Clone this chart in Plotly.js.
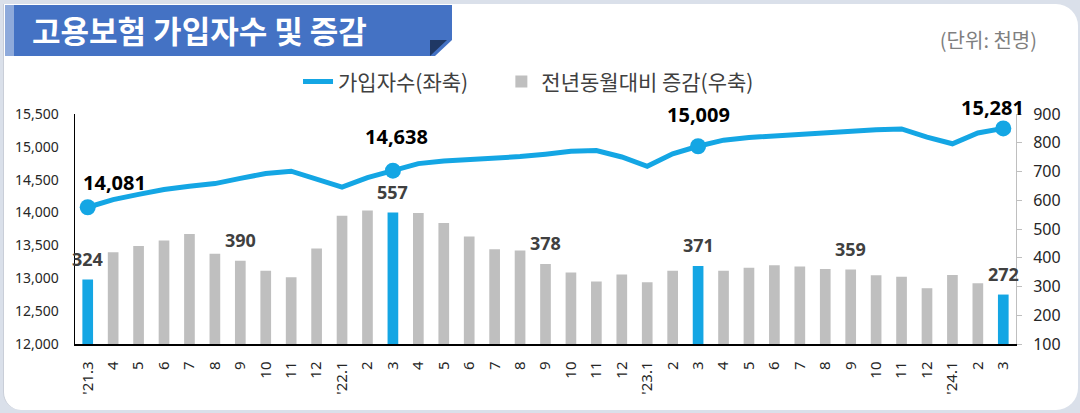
<!DOCTYPE html>
<html>
<head>
<meta charset="utf-8">
<script src="https://cdn.plot.ly/plotly-3.0.1.min.js"></script>
<style>
  html, body { margin: 0; padding: 0; }
  body { width: 1080px; height: 413px; background: #dae0ea; position: relative; overflow: hidden; }
  #panel { position: absolute; left: 3px; top: 4px; width: 1074px; height: 406px; background: #fff;
           border-radius: 0 22px 22px 18px; border-left: 1px solid #c9ced8; }
  #band { position: absolute; left: 5px; top: 5px; width: 447px; height: 51px; background: #4472c4;
          clip-path: polygon(0 0, 100% 0, 100% 35px, 430px 100%, 0 100%); }
  #strip { position: absolute; left: 5px; top: 5px; width: 9px; height: 51px; background: #8eaadb; }
  #fold { position: absolute; left: 430px; top: 40px; width: 17px; height: 16px; background: #1f3864;
          clip-path: polygon(0 0, 100% 0, 0 100%); }
  #title { position: absolute; left: 32px; top: 9px; color: #fff; font: bold 31px "Noto Sans CJK KR"; line-height: 42px; }
  #unit { position: absolute; right: 43px; top: 25px; color: #7f7f7f; font: 20px "Noto Sans CJK KR"; }
  #chart { position: absolute; left: 0; top: 0; width: 1080px; height: 413px; }
</style>
</head>
<body>
<div id="panel"></div>
<div id="band"></div>
<div id="strip"></div>
<div id="fold"></div>
<div id="title">고용보험 가입자수 및 증감</div>
<div id="unit">(단위: 천명)</div>
<div id="chart"></div>
<script>
const periods = [
  "21년3월","21년4월","21년5월","21년6월","21년7월","21년8월","21년9월","21년10월","21년11월","21년12월",
  "22년1월","22년2월","22년3월","22년4월","22년5월","22년6월","22년7월","22년8월","22년9월","22년10월","22년11월","22년12월",
  "23년1월","23년2월","23년3월","23년4월","23년5월","23년6월","23년7월","23년8월","23년9월","23년10월","23년11월","23년12월",
  "24년1월","24년2월","24년3월"
];
const tickLabels = [
  "'21.3","4","5","6","7","8","9","10","11","12",
  "'22.1","2","3","4","5","6","7","8","9","10","11","12",
  "'23.1","2","3","4","5","6","7","8","9","10","11","12",
  "'24.1","2","3"
];
// 가입자수 (천명, 좌축)
const subscribers = [
  14081, 14198, 14277, 14351, 14399, 14441, 14521, 14595, 14630, 14516,
  14388, 14531, 14638, 14745, 14785, 14808, 14818, 14852, 14888, 14932, 14944, 14846,
  14705, 14895, 15009, 15102, 15142, 15168, 15178, 15203, 15235, 15262, 15273, 15147,
  15047, 15212, 15281
];
// 전년동월대비 증감 (천명, 우축)
const changes = [
  324, 419, 441, 460, 483, 414, 390, 355, 332, 432,
  546, 564, 557, 556, 521, 474, 430, 425, 378, 349, 317, 342,
  315, 355, 371, 355, 365, 374, 370, 361, 359, 339, 334, 294,
  340, 311, 272
];
const labeledBars = ["21년3월","21년9월","22년3월","22년9월","23년3월","23년9월","24년3월"];
const labeledPoints = ["21년3월","22년3월","23년3월","24년3월"];
const pointShift = [[27, 25], [4, 34], [0, 32], [-11, 21]]; // [xshift, yshift] px

const blue = "#14a6e4";
const gray = "#bfbfbf";
const isMarch = (p) => p.endsWith("년3월");
const pad = "\u00a0".repeat(6); // legend spacing

// 3월은 파란 막대, 나머지는 회색
const grayBars = {
  type: "bar",
  x: periods,
  y: changes.map((v, i) => (isMarch(periods[i]) ? null : v)),
  yaxis: "y2",
  width: 0.42,
  name: "전년동월대비 증감(우축)",
  marker: { color: gray },
  legendrank: 2,
  hoverinfo: "skip"
};
const blueBars = {
  type: "bar",
  x: periods,
  y: changes.map((v, i) => (isMarch(periods[i]) ? v : null)),
  yaxis: "y2",
  width: 0.42,
  marker: { color: blue },
  showlegend: false,
  hoverinfo: "skip"
};
const line = {
  type: "scatter",
  mode: "lines",
  x: periods,
  y: subscribers,
  name: "가입자수(좌축)" + pad,
  line: { color: blue, width: 5 },
  legendrank: 1,
  hoverinfo: "skip"
};
const dots = {
  type: "scatter",
  mode: "markers",
  x: labeledPoints,
  y: labeledPoints.map((p) => subscribers[periods.indexOf(p)]),
  marker: { color: blue, size: 16 },
  showlegend: false,
  hoverinfo: "skip"
};

const fmt = (n) => n.toLocaleString("en-US");
const annotations = [
  ...labeledBars.map((p) => ({
    x: p, y: changes[periods.indexOf(p)], xref: "x", yref: "y2",
    text: String(changes[periods.indexOf(p)]), showarrow: false, yshift: 21,
    font: { family: "Noto Sans", size: 18, color: "#404040", weight: "bold" }
  })),
  ...labeledPoints.map((p, i) => ({
    x: p, y: subscribers[periods.indexOf(p)], xref: "x", yref: "y",
    text: fmt(subscribers[periods.indexOf(p)]), showarrow: false,
    xshift: pointShift[i][0], yshift: pointShift[i][1],
    font: { family: "Noto Sans", size: 20, color: "#000", weight: "bold" }
  }))
];

const layout = {
  width: 1080,
  height: 413,
  paper_bgcolor: "rgba(0,0,0,0)",
  plot_bgcolor: "rgba(0,0,0,0)",
  margin: { l: 75, r: 64, t: 114, b: 69 },
  barmode: "overlay",
  showlegend: true,
  legend: {
    orientation: "h", x: 0.237, xanchor: "left", y: 1.14, yanchor: "middle",
    font: { family: "Noto Sans CJK KR", size: 21, color: "#404040" },
    bgcolor: "rgba(0,0,0,0)"
  },
  xaxis: {
    type: "category",
    range: [-0.5, periods.length - 0.5],
    tickvals: periods,
    ticktext: tickLabels,
    tickangle: -90,
    ticks: "",
    ticklabelstandoff: 10,
    showline: true, linecolor: "#000", linewidth: 1.5,
    showgrid: false, zeroline: false,
    tickfont: { family: "Noto Sans", size: 15, color: "#262626" }
  },
  yaxis: {
    range: [12000, 15500], dtick: 500, tickformat: ",",
    ticks: "", ticklabelstandoff: 12,
    showline: true, linecolor: "#000", linewidth: 1.5,
    showgrid: false, zeroline: false,
    tickfont: { family: "Noto Sans", size: 14, color: "#262626" }
  },
  yaxis2: {
    overlaying: "y", side: "right",
    range: [100, 900], dtick: 100,
    ticks: "outside", ticklen: 5, tickcolor: "#bfbfbf", ticklabelstandoff: 8,
    showline: true, linecolor: "#bfbfbf", linewidth: 1,
    showgrid: false, zeroline: false,
    tickfont: { family: "Noto Sans", size: 16, color: "#262626" }
  },
  annotations
};

Plotly.newPlot("chart", [grayBars, blueBars, line, dots], layout, { displayModeBar: false, staticPlot: true });
</script>
</body>
</html>
